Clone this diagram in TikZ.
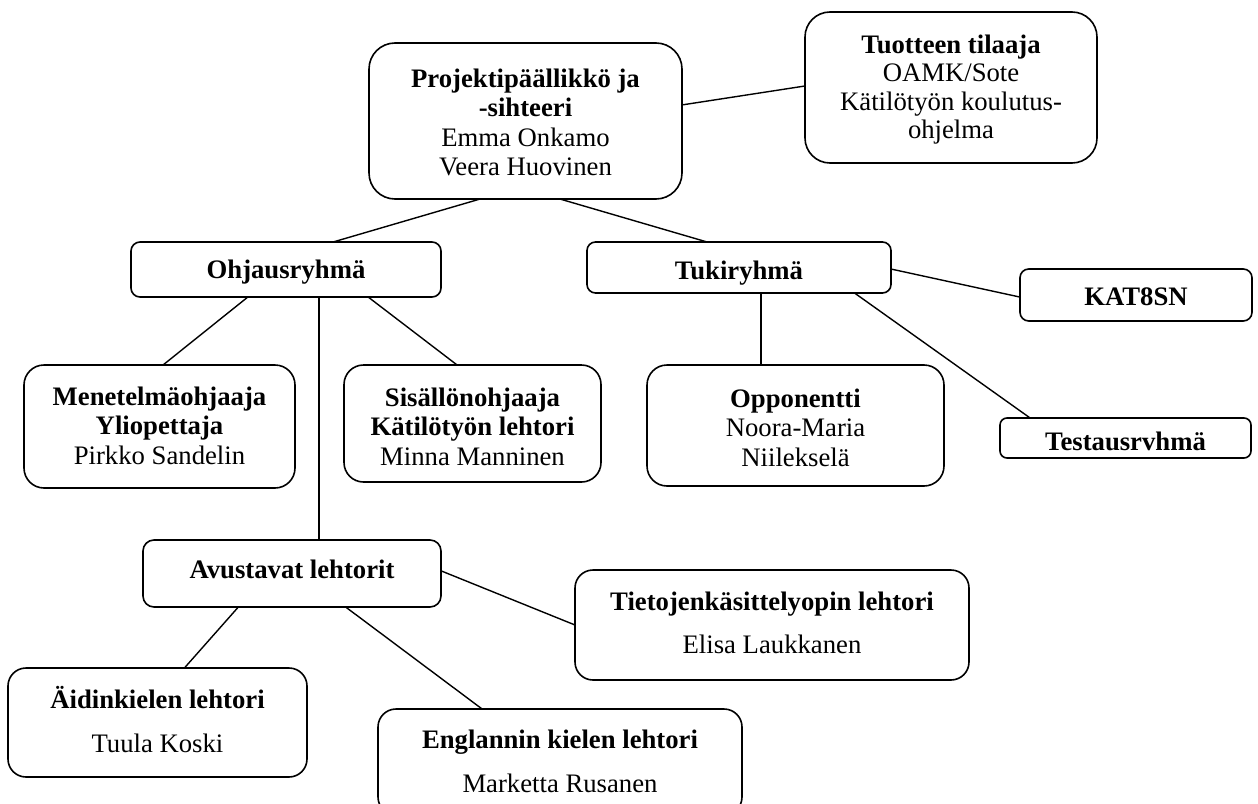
\documentclass[tikz,border=0pt]{standalone}
\usepackage{fontspec}
\setmainfont{Liberation Serif}
\usetikzlibrary{calc}
\begin{document}
\begin{tikzpicture}[x=1pt,y=-1pt,
  box/.style={draw, line width=1.6pt, rounded corners=#1, inner sep=0pt, outer sep=0pt},
  box/.default=10pt,
  txt/.style={anchor=base, inner sep=0pt, font=\fontsize{26.7}{29.5}\selectfont},
  link/.style={line width=1.4pt}]
\clip (0,0) rectangle (1258,803);
% boxes
\node[box=26pt, minimum width=313pt, minimum height=156pt] (proj) at (525.5,121) {};
\node[box=25pt, minimum width=292pt, minimum height=151pt] (tilaaja) at (951,87.5) {};
\node[box=9pt, minimum width=310pt, minimum height=55pt] (ohj) at (286,269.5) {};
\node[box=8.5pt, minimum width=304pt, minimum height=51pt] (tuki) at (739,267.5) {};
\node[box=8.7pt, minimum width=232pt, minimum height=52pt] (kat) at (1136,295) {};
\node[box=20pt, minimum width=271pt, minimum height=123pt] (meth) at (159.5,426.5) {};
\node[box=19.5pt, minimum width=257pt, minimum height=117pt] (sis) at (472.5,423.5) {};
\node[box=20pt, minimum width=297pt, minimum height=121pt] (opp) at (795.5,425.5) {};
\node[box=7pt, minimum width=251pt, minimum height=40pt] (test) at (1125.5,438) {};
\node[box=11pt, minimum width=298pt, minimum height=67pt] (avu) at (292,573.5) {};
\node[box=18pt, minimum width=394pt, minimum height=110pt] (tiet) at (772,625) {};
\node[box=18pt, minimum width=299pt, minimum height=109pt] (aid) at (157.5,722.5) {};
\node[box=18pt, minimum width=364pt, minimum height=106pt] (eng) at (560,762) {};
% texts
\node[txt] (projt) at (525.5,87) {\begin{tabular}[t]{@{}c@{}}\bfseries Projektipäällikkö ja\\ \bfseries -sihteeri\\ Emma Onkamo\\ Veera Huovinen\end{tabular}};
\node[txt, font=\fontsize{26.7}{28.5}\selectfont] (tilaajat) at (951,53) {\begin{tabular}[t]{@{}c@{}}\bfseries Tuotteen tilaaja\\ OAMK/Sote\\ Kätilötyön koulutus-\\ ohjelma\end{tabular}};
\node[txt] (ohjt) at (286,278) {\bfseries Ohjausryhmä};
\node[txt] (tukit) at (739,279) {\bfseries Tukiryhmä};
\node[txt] (katt) at (1136,305) {\bfseries KAT8SN};
\node[txt] (metht) at (159.5,405) {\begin{tabular}[t]{@{}c@{}}\bfseries Menetelmäohjaaja\\ \bfseries Yliopettaja\\ Pirkko Sandelin\end{tabular}};
\node[txt] (sist) at (472.5,406) {\begin{tabular}[t]{@{}c@{}}\bfseries Sisällönohjaaja\\ \bfseries Kätilötyön lehtori\\ Minna Manninen\end{tabular}};
\node[txt] (oppt) at (795.5,407) {\begin{tabular}[t]{@{}c@{}}\bfseries Opponentti\\ Noora-Maria\\ Niileksel\"a\end{tabular}};
\node[txt] (testt) at (1125.5,450) {\bfseries Testausrvhmä};
\node[txt] (avut) at (292,578) {\bfseries Avustavat lehtorit};
\node[txt] (tiett) at (772,610) {\begin{tabular}[t]{@{}c@{}}\bfseries Tietojenkäsittelyopin lehtori\\[14pt] Elisa Laukkanen\end{tabular}};
\node[txt] (aidt) at (157.5,708) {\begin{tabular}[t]{@{}c@{}}\bfseries Äidinkielen lehtori\\[15pt] Tuula Koski\end{tabular}};
\node[txt] (engt) at (560,748) {\begin{tabular}[t]{@{}c@{}}\bfseries Englannin kielen lehtori\\[15pt] Marketta Rusanen\end{tabular}};
% connectors
\draw[link] ($(proj.south west)!0.355!(proj.south east)$) -- ($(ohj.north west)!0.652!(ohj.north east)$);
\draw[link] ($(proj.south west)!0.61!(proj.south east)$) -- ($(tuki.north west)!0.395!(tuki.north east)$);
\draw[link] ($(proj.north east)!0.397!(proj.south east)$) -- ($(tilaaja.north west)!0.49!(tilaaja.south west)$);
\draw[link] ($(ohj.south west)!0.377!(ohj.south east)$) -- ($(meth.north west)!0.513!(meth.north east)$);
\coordinate (v1) at ($(ohj.south west)!0.606!(ohj.south east)$);
\draw[link] (v1) -- (v1 |- avu.north);
\draw[link] ($(ohj.south west)!0.765!(ohj.south east)$) -- ($(sis.north west)!0.44!(sis.north east)$);
\coordinate (v2) at ($(tuki.south west)!0.572!(tuki.south east)$);
\draw[link] (v2) -- (v2 |- opp.north);
\draw[link] ($(tuki.north east)!0.53!(tuki.south east)$) -- ($(kat.north west)!0.54!(kat.south west)$);
\draw[link] ($(tuki.south west)!0.88!(tuki.south east)$) -- ($(test.north west)!0.12!(test.north east)$);
\draw[link] ($(avu.north east)!0.46!(avu.south east)$) -- ($(tiet.north west)!0.5!(tiet.south west)$);
\draw[link] ($(avu.south west)!0.32!(avu.south east)$) -- ($(aid.north west)!0.59!(aid.north east)$);
\draw[link] ($(avu.south west)!0.68!(avu.south east)$) -- ($(eng.north west)!0.286!(eng.north east)$);
\end{tikzpicture}
\end{document}
